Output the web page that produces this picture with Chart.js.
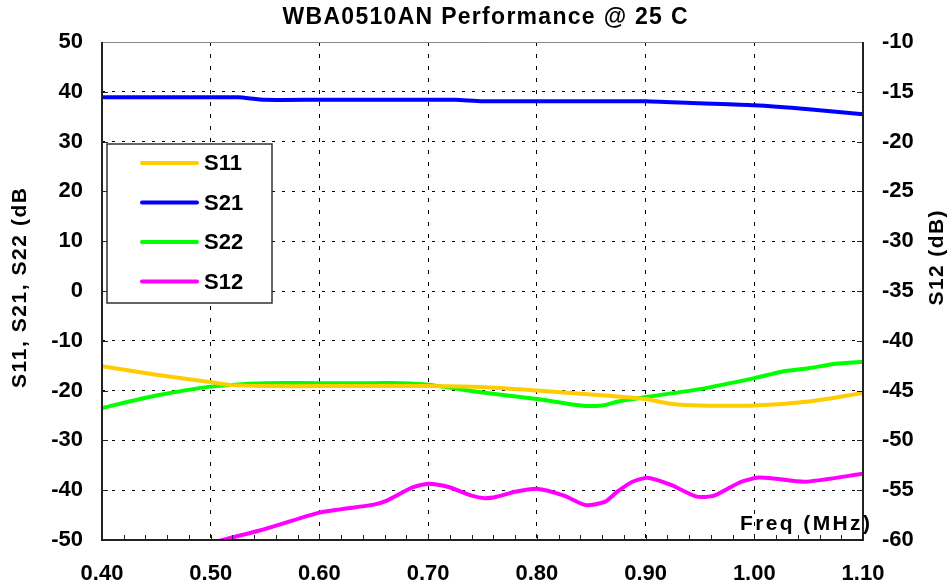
<!DOCTYPE html>
<html>
<head>
<meta charset="utf-8">
<script src="https://cdn.jsdelivr.net/npm/chart.js@4.4.1/dist/chart.umd.min.js"></script>
<style>
  html, body { margin: 0; padding: 0; background: #fff; }
  #wrap { width: 949px; height: 588px; }
</style>
</head>
<body>
<div id="wrap"><canvas id="myChart" width="949" height="588"></canvas></div>
<script>
// values (freq in MHz, dB)
const chartTitle = 'WBA0510AN Performance @ 25 C';
const leftTitle = 'S11, S21, S22 (dB';
const rightTitle = 'S12 (dB)';
const xTitle = 'Freq (MHz)';

const s11Freq = [0.40, 0.45, 0.50, 0.52, 0.55, 0.60, 0.65, 0.70, 0.75, 0.80, 0.85, 0.87, 0.90, 0.925, 0.95, 1.00, 1.05, 1.10];
const s11 = [-15.1, -16.8, -18.3, -18.9, -19.1, -19.1, -19.1, -19.1, -19.3, -20.0, -20.8, -21.1, -21.7, -22.7, -23.0, -23.0, -22.2, -20.5];

const s21Freq = [0.40, 0.45, 0.50, 0.525, 0.55, 0.60, 0.65, 0.70, 0.725, 0.75, 0.80, 0.85, 0.90, 0.95, 1.00, 1.05, 1.10];
const s21 = [38.9, 38.9, 38.9, 38.9, 38.4, 38.4, 38.4, 38.4, 38.4, 38.1, 38.1, 38.1, 38.1, 37.7, 37.3, 36.5, 35.5];

const s22Freq = [0.40, 0.45, 0.50, 0.55, 0.60, 0.65, 0.675, 0.70, 0.75, 0.80, 0.84, 0.86, 0.875, 0.90, 0.95, 1.00, 1.025, 1.05, 1.075, 1.10];
const s22 = [-23.5, -21.0, -19.2, -18.5, -18.5, -18.5, -18.5, -18.8, -20.4, -21.7, -23.0, -23.0, -22.2, -21.3, -19.7, -17.5, -16.2, -15.5, -14.6, -14.2];

// S12 uses the right axis
const s12Freq = [0.50, 0.55, 0.60, 0.65, 0.662, 0.685, 0.70, 0.718, 0.74, 0.752, 0.763, 0.78, 0.80, 0.825, 0.845, 0.863, 0.874, 0.888, 0.902, 0.924, 0.947, 0.963, 0.986, 1.002, 1.016, 1.047, 1.10];
const s12 = [-60.3, -58.9, -57.25, -56.45, -56.05, -54.75, -54.35, -54.65, -55.55, -55.8, -55.65, -55.15, -54.85, -55.55, -56.5, -56.15, -55.15, -54.15, -53.75, -54.5, -55.65, -55.55, -54.25, -53.75, -53.8, -54.15, -53.35];

const xMin = 0.40, xMax = 1.10, xStep = 0.1, xMinorStep = 0.02;
const yMin = -50, yMax = 50, yStep = 10;
const y2Min = -60, y2Max = -10, y2Step = 5;

const FONT = "'Liberation Sans', Arial, sans-serif";

function pts(xs, ys) {
  let out = [];
  for (let i = 0; i < xs.length; i++) out.push({x: xs[i], y: ys[i]});
  return out;
}

// draw text so it spans a given width (the original has loose letter spacing)
function spacedText(ctx, text, x, y, width) {
  ctx.letterSpacing = '0px';
  let w = ctx.measureText(text).width;
  let sp = (width - w) / (text.length - 1);
  if (sp < 0) sp = 0;
  ctx.letterSpacing = sp + 'px';
  let w2 = ctx.measureText(text).width;
  ctx.textAlign = 'left';
  ctx.fillText(text, x - (w2 - sp) / 2, y);
  ctx.letterSpacing = '0px';
}

const decor = {
  id: 'decor',
  beforeDraw(chart) {
    const ctx = chart.ctx;
    ctx.save();
    ctx.fillStyle = '#fff';
    ctx.fillRect(0, 0, chart.width, chart.height);
    ctx.restore();
  },
  afterDatasetsDraw(chart) {
    const ctx = chart.ctx;
    const a = chart.chartArea;
    const xs = chart.scales.x, ys = chart.scales.y;
    ctx.save();

    // minor ticks on the bottom axis
    ctx.strokeStyle = '#222';
    ctx.lineWidth = 1;
    ctx.beginPath();
    for (let v = xMin; v <= xMax + 1e-9; v += xMinorStep) {
      let px = Math.round(xs.getPixelForValue(v)) + 0.5;
      ctx.moveTo(px, a.bottom);
      ctx.lineTo(px, a.bottom - 5);
    }
    // ticks on left and right borders
    for (let v = yMin; v <= yMax; v += yStep) {
      let py = Math.round(ys.getPixelForValue(v)) + 0.5;
      ctx.moveTo(a.left, py);
      ctx.lineTo(a.left + 6, py);
      ctx.moveTo(a.right, py);
      ctx.lineTo(a.right - 6, py);
    }
    ctx.stroke();

    // frame
    ctx.strokeStyle = '#888';
    ctx.lineWidth = 1;
    ctx.beginPath();
    ctx.moveTo(a.left, a.top + 0.5);
    ctx.lineTo(a.right, a.top + 0.5);
    ctx.stroke();
    ctx.strokeStyle = '#222';
    ctx.lineWidth = 2;
    ctx.beginPath();
    ctx.moveTo(a.left, a.top);
    ctx.lineTo(a.left, a.bottom);
    ctx.lineTo(a.right, a.bottom);
    ctx.lineTo(a.right, a.top);
    ctx.stroke();

    // legend box
    let lx = a.left + 5, ly = a.top + 102, lw = 165, lh = 159;
    ctx.fillStyle = '#fff';
    ctx.fillRect(lx, ly, lw, lh);
    ctx.strokeStyle = '#333';
    ctx.lineWidth = 1.5;
    ctx.strokeRect(lx, ly, lw, lh);
    ctx.font = 'bold 22px ' + FONT;
    ctx.textBaseline = 'middle';
    ctx.textAlign = 'left';
    chart.data.datasets.forEach((ds, i) => {
      let yy = ly + 19 + i * 39.5;
      ctx.strokeStyle = ds.borderColor;
      ctx.lineWidth = 4;
      ctx.lineCap = 'round';
      ctx.beginPath();
      ctx.moveTo(lx + 35, yy);
      ctx.lineTo(lx + 90, yy);
      ctx.stroke();
      ctx.fillStyle = '#000';
      ctx.fillText(ds.label, lx + 97, yy + 1);
    });

    // x axis title inside the plot
    ctx.font = 'bold 21px ' + FONT;
    ctx.textBaseline = 'alphabetic';
    ctx.fillStyle = '#000';
    spacedText(ctx, xTitle, a.right - 58, a.bottom - 10, 130);
    ctx.restore();
  },
  afterDraw(chart) {
    const ctx = chart.ctx;
    const a = chart.chartArea;
    ctx.save();
    ctx.fillStyle = '#000';
    ctx.textBaseline = 'alphabetic';
    ctx.font = 'bold 23px ' + FONT;
    spacedText(ctx, chartTitle, 485, 24, 405);

    ctx.font = 'bold 21px ' + FONT;
    ctx.textBaseline = 'middle';
    ctx.save();
    ctx.translate(20, 288);
    ctx.rotate(-Math.PI / 2);
    spacedText(ctx, leftTitle, 0, 0, 200);
    ctx.restore();

    ctx.save();
    ctx.translate(937, 258);
    ctx.rotate(-Math.PI / 2);
    spacedText(ctx, rightTitle, 0, 0, 95);
    ctx.restore();
    ctx.restore();
  }
};

const ctx = document.getElementById('myChart').getContext('2d');
const myChart = new Chart(ctx, {
  type: 'line',
  data: {
    datasets: [
      { label: 'S11', data: pts(s11Freq, s11), borderColor: '#FFCC00', yAxisID: 'y' },
      { label: 'S21', data: pts(s21Freq, s21), borderColor: '#0000FF', yAxisID: 'y' },
      { label: 'S22', data: pts(s22Freq, s22), borderColor: '#00FF00', yAxisID: 'y' },
      { label: 'S12', data: pts(s12Freq, s12), borderColor: '#FF00FF', yAxisID: 'y2', clip: 0 }
    ]
  },
  options: {
    responsive: false,
    animation: false,
    layout: { padding: { top: 42, left: 0, right: 0, bottom: 0 } },
    elements: {
      line: { borderWidth: 4, tension: 0.2, fill: false, borderCapStyle: 'round', borderJoinStyle: 'round' },
      point: { radius: 0 }
    },
    plugins: {
      legend: { display: false },
      title: { display: false },
      tooltip: { enabled: false }
    },
    scales: {
      x: {
        type: 'linear',
        position: 'bottom',
        min: xMin,
        max: xMax,
        afterFit: (s) => { s.height = 48; },
        ticks: {
          stepSize: xStep,
          padding: 21,
          color: '#000',
          font: { family: FONT, size: 22, weight: 'bold' },
          callback: (v) => Number(v).toFixed(2)
        },
        grid: { color: '#000', lineWidth: 1, drawTicks: false },
        border: { display: false, dash: [4, 8] }
      },
      y: {
        position: 'left',
        min: yMin,
        max: yMax,
        afterFit: (s) => { s.width = 102; },
        ticks: {
          stepSize: yStep,
          padding: 19,
          color: '#000',
          font: { family: FONT, size: 22, weight: 'bold' }
        },
        grid: { color: '#000', lineWidth: 1, drawTicks: false },
        border: { display: false, dash: [3, 7] }
      },
      y2: {
        position: 'right',
        min: y2Min,
        max: y2Max,
        afterFit: (s) => { s.width = 86; },
        ticks: {
          stepSize: y2Step,
          padding: 19,
          color: '#000',
          font: { family: FONT, size: 22, weight: 'bold' }
        },
        grid: { drawOnChartArea: false, drawTicks: false },
        border: { display: false }
      }
    }
  },
  plugins: [decor]
});
</script>
</body>
</html>
